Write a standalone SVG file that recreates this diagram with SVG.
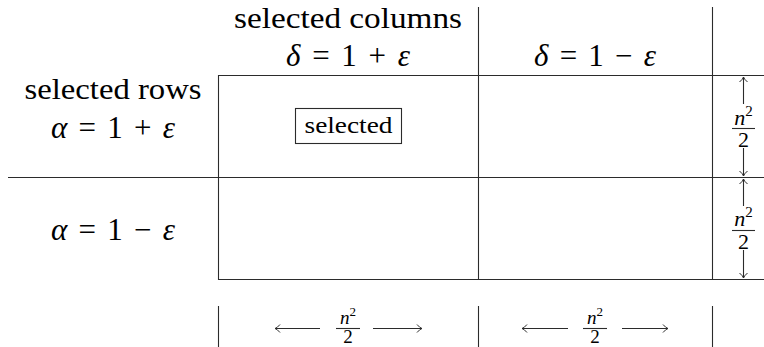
<svg xmlns="http://www.w3.org/2000/svg" width="764" height="347" viewBox="0 0 764 347">
<style>
.ln{stroke:#2b2b2b;stroke-width:1.1;fill:none}
.lbl{font-size:30px}
.m{font-size:31px}
.i{font-style:italic}
.fr{font-size:22px}
.frb{font-size:19px}
.sup{font-size:15px}
.supb{font-size:13px}
.ar{stroke:#2b2b2b;stroke-width:1.1;fill:none}
</style>
<defs>
<marker id="ah" viewBox="-6 -6 12 12" markerWidth="12" markerHeight="12" markerUnits="userSpaceOnUse" orient="auto" refX="0" refY="0">
<path d="M-5,-4 Q-2,-0.5 0,0 Q-2,0.5 -5,4" stroke="#2b2b2b" stroke-width="1" fill="none"/>
</marker>
</defs>
<rect width="764" height="347" fill="#fff"/>

<g id="connectors">
<line class="ln" x1="218.5" y1="75.5" x2="764" y2="75.5"/>
<line class="ln" x1="8" y1="177.5" x2="764" y2="177.5"/>
<line class="ln" x1="218.5" y1="279.5" x2="764" y2="279.5"/>
<line class="ln" x1="218.5" y1="75" x2="218.5" y2="280"/>
<line class="ln" x1="478.5" y1="7" x2="478.5" y2="280"/>
<line class="ln" x1="712.5" y1="7" x2="712.5" y2="280"/>
<line class="ln" x1="218.5" y1="306" x2="218.5" y2="347"/>
<line class="ln" x1="478.5" y1="306" x2="478.5" y2="347"/>
<line class="ln" x1="712.5" y1="306" x2="712.5" y2="347"/>
<line class="ar" x1="743.5" y1="104" x2="743.5" y2="77" marker-end="url(#ah)"/>
<line class="ar" x1="743.5" y1="148" x2="743.5" y2="176" marker-end="url(#ah)"/>
<line class="ar" x1="743.5" y1="206" x2="743.5" y2="179" marker-end="url(#ah)"/>
<line class="ar" x1="743.5" y1="250" x2="743.5" y2="278" marker-end="url(#ah)"/>
<line class="ar" x1="320" y1="328.5" x2="275" y2="328.5" marker-end="url(#ah)"/>
<line class="ar" x1="373" y1="328.5" x2="422" y2="328.5" marker-end="url(#ah)"/>
<line class="ar" x1="568" y1="328.5" x2="522" y2="328.5" marker-end="url(#ah)"/>
<line class="ar" x1="622" y1="328.5" x2="668" y2="328.5" marker-end="url(#ah)"/>
</g>

<g font-family="Liberation Serif, DejaVu Serif, serif" fill="#000">
<g id="col-header-1">
<text class="lbl" x="348" y="28" text-anchor="middle" textLength="228" lengthAdjust="spacingAndGlyphs">selected columns</text>
<text class="m" x="348" y="66" text-anchor="middle" textLength="124" lengthAdjust="spacing"><tspan class="i">δ</tspan> = 1 + <tspan class="i">ε</tspan></text>
</g>
<g id="col-header-2">
<text class="m" x="595" y="66" text-anchor="middle" textLength="122" lengthAdjust="spacing"><tspan class="i">δ</tspan> = 1 − <tspan class="i">ε</tspan></text>
</g>
<g id="row-header-1">
<text class="lbl" x="113" y="99" text-anchor="middle" textLength="177" lengthAdjust="spacingAndGlyphs">selected rows</text>
<text class="m" x="113" y="138" text-anchor="middle" textLength="124" lengthAdjust="spacing"><tspan class="i">α</tspan> = 1 + <tspan class="i">ε</tspan></text>
</g>
<g id="row-header-2">
<text class="m" x="113" y="240" text-anchor="middle" textLength="124" lengthAdjust="spacing"><tspan class="i">α</tspan> = 1 − <tspan class="i">ε</tspan></text>
</g>
<g id="selected">
<rect class="ln" x="295.5" y="108.5" width="106" height="35"/>
<text x="348.5" y="133" font-size="24" text-anchor="middle" textLength="88" lengthAdjust="spacingAndGlyphs">selected</text>
</g>
<g id="dim-row-1">
<text class="fr" x="743.5" y="125" text-anchor="middle"><tspan class="i">n</tspan><tspan class="sup" dy="-9">2</tspan></text>
<line class="ln" x1="732" y1="128.5" x2="755" y2="128.5"/>
<text class="fr" x="743.5" y="147" text-anchor="middle">2</text>
</g>
<g id="dim-row-2">
<text class="fr" x="743.5" y="226" text-anchor="middle"><tspan class="i">n</tspan><tspan class="sup" dy="-9">2</tspan></text>
<line class="ln" x1="732" y1="230.5" x2="755" y2="230.5"/>
<text class="fr" x="743.5" y="249" text-anchor="middle">2</text>
</g>
<g id="dim-col-1">
<text class="frb" x="348" y="324" text-anchor="middle"><tspan class="i">n</tspan><tspan class="supb" dy="-8">2</tspan></text>
<line class="ln" x1="336" y1="328.5" x2="360" y2="328.5"/>
<text class="frb" x="348" y="343" text-anchor="middle">2</text>
</g>
<g id="dim-col-2">
<text class="frb" x="595" y="324" text-anchor="middle"><tspan class="i">n</tspan><tspan class="supb" dy="-8">2</tspan></text>
<line class="ln" x1="583" y1="328.5" x2="607" y2="328.5"/>
<text class="frb" x="595" y="343" text-anchor="middle">2</text>
</g>
</g>
</svg>
